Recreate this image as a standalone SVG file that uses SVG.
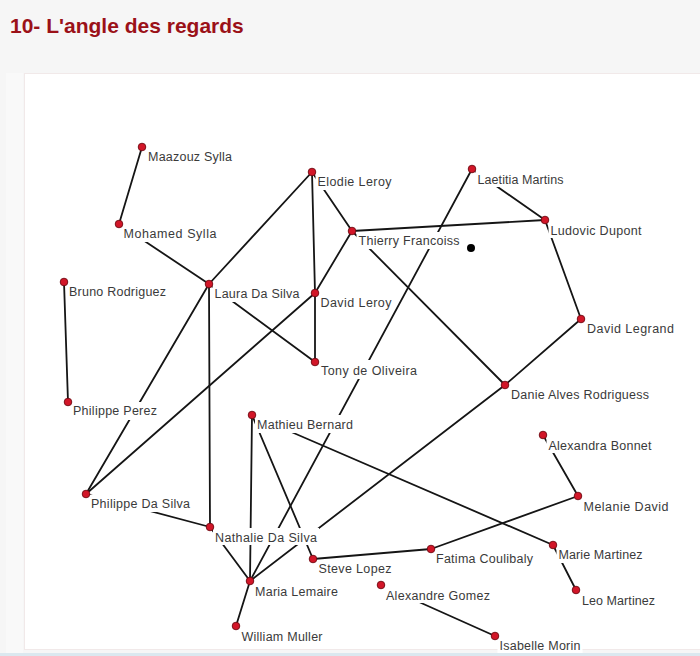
<svg xmlns="http://www.w3.org/2000/svg" width="700" height="656" viewBox="0 0 700 656">
<style>
.bg{fill:#f6f6f6}
.panel{fill:#ffffff;stroke:#f1e9e9;stroke-width:1}
.title{font-family:"Liberation Sans",Arial,sans-serif;font-weight:bold;font-size:21px;fill:#9b1118}
.e{stroke:#151515;stroke-width:1.8;fill:none;stroke-linecap:round}
.lb{fill:#ffffff}
.t{font-family:"Liberation Sans",Arial,sans-serif;font-size:12.5px;fill:#3a3a3a}
.d{fill:#d21628;stroke:#6e0a12;stroke-width:0.9}
</style>
<rect class="bg" x="0" y="0" width="700" height="656"/>
<rect x="6" y="73" width="17" height="580" fill="#f9f9f9"/>
<rect class="panel" x="24.5" y="73.5" width="680" height="576"/>
<rect x="0" y="653" width="700" height="3" fill="#dbe8ef"/>
<text class="title" x="10" y="33">10- L'angle des regards</text>

<g id="connectors">
<line class="e" x1="142" y1="147" x2="119" y2="224"/>
<line class="e" x1="119" y1="224" x2="209" y2="284"/>
<line class="e" x1="209" y1="284" x2="312" y2="172"/>
<line class="e" x1="312" y1="172" x2="315" y2="293"/>
<line class="e" x1="315" y1="293" x2="315" y2="362"/>
<line class="e" x1="312" y1="172" x2="352" y2="231"/>
<line class="e" x1="352" y1="231" x2="545" y2="220"/>
<line class="e" x1="472" y1="169" x2="545" y2="220"/>
<line class="e" x1="545" y1="220" x2="581" y2="319"/>
<line class="e" x1="581" y1="319" x2="505" y2="385"/>
<line class="e" x1="352" y1="231" x2="505" y2="385"/>
<line class="e" x1="352" y1="231" x2="315" y2="293"/>
<line class="e" x1="315" y1="293" x2="86" y2="494"/>
<line class="e" x1="209" y1="284" x2="315" y2="362"/>
<line class="e" x1="209" y1="284" x2="86" y2="494"/>
<line class="e" x1="209" y1="284" x2="210" y2="527"/>
<line class="e" x1="86" y1="494" x2="210" y2="527"/>
<line class="e" x1="64" y1="282" x2="68" y2="402"/>
<line class="e" x1="252" y1="415" x2="250" y2="581"/>
<line class="e" x1="252" y1="415" x2="313" y2="559"/>
<line class="e" x1="252" y1="415" x2="553" y2="545"/>
<line class="e" x1="505" y1="385" x2="250" y2="581"/>
<line class="e" x1="472" y1="169" x2="250" y2="581"/>
<line class="e" x1="210" y1="527" x2="250" y2="581"/>
<line class="e" x1="313" y1="559" x2="431" y2="549"/>
<line class="e" x1="431" y1="549" x2="578" y2="496"/>
<line class="e" x1="543" y1="435" x2="578" y2="496"/>
<line class="e" x1="553" y1="545" x2="576" y2="590"/>
<line class="e" x1="250" y1="581" x2="236" y2="626"/>
<line class="e" x1="381" y1="585" x2="495" y2="636"/>
</g>

<g id="n-maazouz"><rect class="lb" x="146" y="148" width="88" height="17"/><text class="t" x="148" y="161" textLength="84" lengthAdjust="spacing">Maazouz Sylla</text><circle class="d" cx="142" cy="147" r="3.8"/></g>
<g id="n-mohamed"><rect class="lb" x="121.5" y="225" width="97" height="17"/><text class="t" x="123.5" y="238" textLength="93" lengthAdjust="spacing">Mohamed Sylla</text><circle class="d" cx="119" cy="224" r="3.8"/></g>
<g id="n-bruno"><rect class="lb" x="67" y="283" width="101" height="17"/><text class="t" x="69" y="296" textLength="97" lengthAdjust="spacing">Bruno Rodriguez</text><circle class="d" cx="64" cy="282" r="3.8"/></g>
<g id="n-laura"><rect class="lb" x="212.5" y="285" width="88" height="17"/><text class="t" x="214.5" y="297.5" textLength="85" lengthAdjust="spacing">Laura Da Silva</text><circle class="d" cx="209" cy="284" r="3.8"/></g>
<g id="n-elodie"><rect class="lb" x="315.5" y="173" width="78" height="17"/><text class="t" x="317.5" y="186" textLength="74" lengthAdjust="spacing">Elodie Leroy</text><circle class="d" cx="312" cy="172" r="3.8"/></g>
<g id="n-thierry"><rect class="lb" x="356.5" y="232" width="105" height="17"/><text class="t" x="358.5" y="245" textLength="101" lengthAdjust="spacing">Thierry Francoiss</text><circle class="d" cx="352" cy="231" r="3.8"/></g>
<g id="n-davidleroy"><rect class="lb" x="318.5" y="294" width="75" height="17"/><text class="t" x="320.5" y="307" textLength="71" lengthAdjust="spacing">David Leroy</text><circle class="d" cx="315" cy="293" r="3.8"/></g>
<g id="n-tony"><rect class="lb" x="319" y="360" width="100" height="19"/><text class="t" x="321" y="375" textLength="96" lengthAdjust="spacing">Tony de Oliveira</text><circle class="d" cx="315" cy="362" r="3.8"/></g>
<g id="n-laetitia"><rect class="lb" x="475.5" y="170" width="90" height="17"/><text class="t" x="477.5" y="183.5" textLength="86" lengthAdjust="spacing">Laetitia Martins</text><circle class="d" cx="472" cy="169" r="3.8"/></g>
<g id="n-ludovic"><rect class="lb" x="548.5" y="221" width="95" height="17"/><text class="t" x="550.5" y="234.5" textLength="91" lengthAdjust="spacing">Ludovic Dupont</text><circle class="d" cx="545" cy="220" r="3.8"/></g>
<g id="n-davidlegrand"><rect class="lb" x="585" y="320" width="91" height="17"/><text class="t" x="587" y="333" textLength="87" lengthAdjust="spacing">David Legrand</text><circle class="d" cx="581" cy="319" r="3.8"/></g>
<g id="n-danie"><rect class="lb" x="509" y="386" width="142" height="17"/><text class="t" x="511" y="398.5" textLength="138" lengthAdjust="spacing">Danie Alves Rodriguess</text><circle class="d" cx="505" cy="385" r="3.8"/></g>
<g id="n-philippeperez"><rect class="lb" x="71" y="402" width="88" height="18"/><text class="t" x="73" y="415" textLength="84" lengthAdjust="spacing">Philippe Perez</text><circle class="d" cx="68" cy="402" r="3.8"/></g>
<g id="n-mathieu"><rect class="lb" x="255" y="415" width="100" height="18"/><text class="t" x="257" y="429" textLength="96" lengthAdjust="spacing">Mathieu Bernard</text><circle class="d" cx="252" cy="415" r="3.8"/></g>
<g id="n-alexandra"><rect class="lb" x="546.5" y="436" width="107" height="17"/><text class="t" x="548.5" y="449.5" textLength="103" lengthAdjust="spacing">Alexandra Bonnet</text><circle class="d" cx="543" cy="435" r="3.8"/></g>
<g id="n-melanie"><rect class="lb" x="581.5" y="497" width="89" height="17"/><text class="t" x="583.5" y="510.5" textLength="85" lengthAdjust="spacing">Melanie David</text><circle class="d" cx="578" cy="496" r="3.8"/></g>
<g id="n-philippedasilva"><rect class="lb" x="89" y="495" width="103" height="17"/><text class="t" x="91" y="508" textLength="99" lengthAdjust="spacing">Philippe Da Silva</text><circle class="d" cx="86" cy="494" r="3.8"/></g>
<g id="n-nathalie"><rect class="lb" x="213" y="528" width="106" height="17"/><text class="t" x="215" y="541.5" textLength="102" lengthAdjust="spacing">Nathalie Da Silva</text><circle class="d" cx="210" cy="527" r="3.8"/></g>
<g id="n-steve"><rect class="lb" x="316.5" y="560" width="77" height="17"/><text class="t" x="318.5" y="572.5" textLength="73" lengthAdjust="spacing">Steve Lopez</text><circle class="d" cx="313" cy="559" r="3.8"/></g>
<g id="n-fatima"><rect class="lb" x="434" y="550" width="101" height="17"/><text class="t" x="436" y="563" textLength="97" lengthAdjust="spacing">Fatima Coulibaly</text><circle class="d" cx="431" cy="549" r="3.8"/></g>
<g id="n-marie"><rect class="lb" x="556.5" y="546" width="88" height="17"/><text class="t" x="558.5" y="559" textLength="84" lengthAdjust="spacing">Marie Martinez</text><circle class="d" cx="553" cy="545" r="3.8"/></g>
<g id="n-leo"><rect class="lb" x="580" y="591" width="77" height="17"/><text class="t" x="582" y="604.5" textLength="73" lengthAdjust="spacing">Leo Martinez</text><circle class="d" cx="576" cy="590" r="3.8"/></g>
<g id="n-maria"><rect class="lb" x="253" y="582" width="87" height="17"/><text class="t" x="255" y="596" textLength="83" lengthAdjust="spacing">Maria Lemaire</text><circle class="d" cx="250" cy="581" r="3.8"/></g>
<g id="n-alexandre"><rect class="lb" x="384" y="586" width="108" height="17"/><text class="t" x="386" y="599.5" textLength="104" lengthAdjust="spacing">Alexandre Gomez</text><circle class="d" cx="381" cy="585" r="3.8"/></g>
<g id="n-william"><rect class="lb" x="239.5" y="627" width="85" height="17"/><text class="t" x="241.5" y="640.5" textLength="81" lengthAdjust="spacing">William Muller</text><circle class="d" cx="236" cy="626" r="3.8"/></g>
<g id="n-isabelle"><rect class="lb" x="497.5" y="637" width="85" height="16"/><text class="t" x="499.5" y="650" textLength="81" lengthAdjust="spacing">Isabelle Morin</text><circle class="d" cx="495" cy="636" r="3.8"/></g>

<circle cx="471" cy="248" r="4" fill="#000000"/>
</svg>
